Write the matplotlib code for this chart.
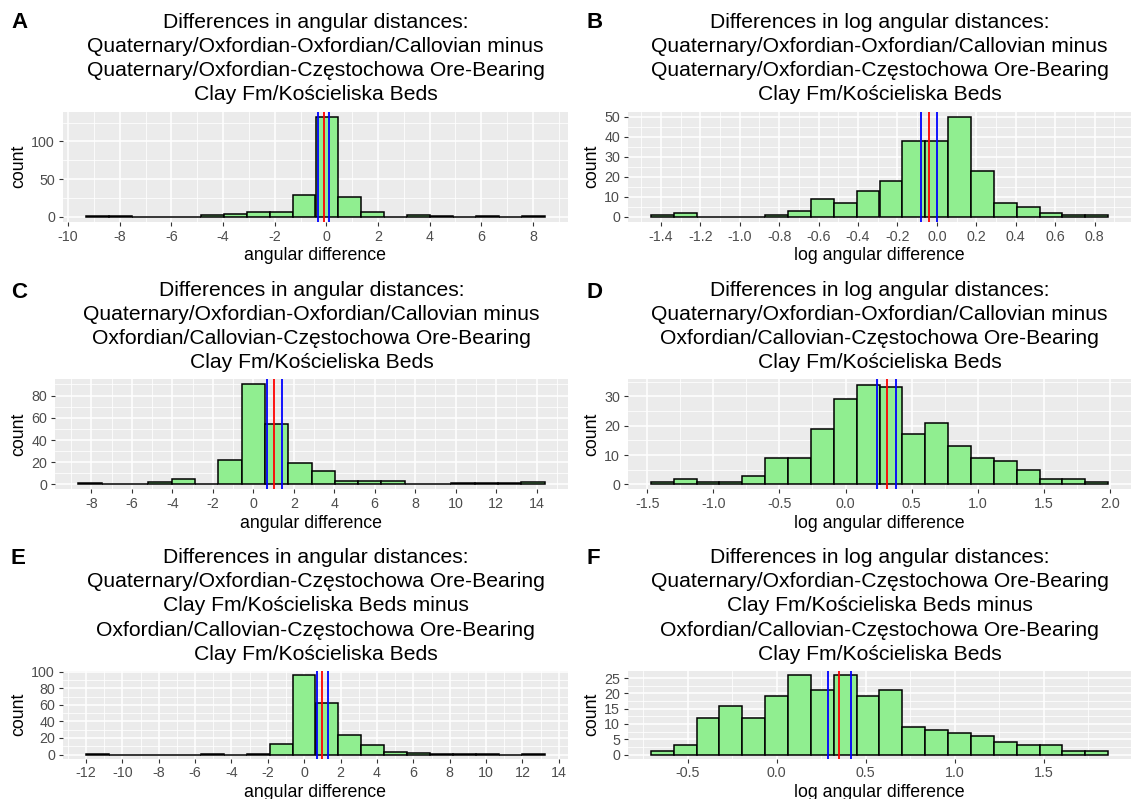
import matplotlib
matplotlib.use("Agg")
import matplotlib.pyplot as plt
from matplotlib.ticker import AutoMinorLocator

plt.rcParams['font.family'] = ['Liberation Sans', 'DejaVu Sans']
plt.rcParams['axes.unicode_minus'] = False

# ---- data (20 bins per histogram) ----
# A: angular differences, Quaternary/Oxfordian pairs
a_start, a_width = -9.31, 0.889
a_counts = [1, 1, 0, 0, 0, 2, 4, 6, 7, 29, 133, 26, 6, 0, 2, 1, 0, 1, 0, 1]
a_vlines = [-0.33, -0.11, 0.10]
a_xticks = [-10, -8, -6, -4, -2, 0, 2, 4, 6, 8]
a_yticks = [0, 50, 100]

# B: log angular differences, same pair
b_start, b_width = -1.451, 0.116
b_counts = [1, 2, 0, 0, 0, 1, 3, 9, 7, 13, 18, 38, 38, 50, 23, 7, 5, 2, 1, 1]
b_vlines = [-0.081, -0.041, 0.001]
b_xticks = [-1.4, -1.2, -1.0, -0.8, -0.6, -0.4, -0.2, 0.0, 0.2, 0.4, 0.6, 0.8]
b_yticks = [0, 10, 20, 30, 40, 50]

# C: angular differences, Quaternary/Oxfordian vs Oxfordian/Callovian
c_start, c_width = -8.65, 1.1525
c_counts = [1, 0, 0, 2, 5, 0, 22, 90, 54, 19, 12, 3, 3, 3, 0, 0, 1, 1, 1, 2]
c_vlines = [0.68, 1.01, 1.40]
c_xticks = [-8, -6, -4, -2, 0, 2, 4, 6, 8, 10, 12, 14]
c_yticks = [0, 20, 40, 60, 80]

# D: log angular differences, same pair
d_start, d_width = -1.473, 0.173
d_counts = [1, 2, 1, 1, 3, 9, 9, 19, 29, 34, 33, 17, 21, 13, 9, 8, 5, 2, 2, 1]
d_vlines = [0.238, 0.314, 0.384]
d_xticks = [-1.5, -1.0, -0.5, 0.0, 0.5, 1.0, 1.5, 2.0]
d_yticks = [0, 10, 20, 30]

# E: angular differences, Częstochowa pairs
e_start, e_width = -12.0, 1.262
e_counts = [1, 0, 0, 0, 0, 1, 0, 1, 13, 96, 62, 24, 11, 3, 2, 1, 1, 1, 0, 1]
e_vlines = [0.69, 1.00, 1.29]
e_xticks = [-12, -10, -8, -6, -4, -2, 0, 2, 4, 6, 8, 10, 12, 14]
e_yticks = [0, 20, 40, 60, 80, 100]

# F: log angular differences, same pair
f_start, f_width = -0.707, 0.1284
f_counts = [1, 3, 12, 16, 12, 19, 26, 21, 26, 19, 21, 9, 8, 7, 6, 4, 3, 3, 1, 1]
f_vlines = [0.286, 0.351, 0.417]
f_xticks = [-0.5, 0.0, 0.5, 1.0, 1.5]
f_yticks = [0, 5, 10, 15, 20, 25]

pair_1 = "Quaternary/Oxfordian-Oxfordian/Callovian minus\nQuaternary/Oxfordian-Częstochowa Ore-Bearing\nClay Fm/Kościeliska Beds"
pair_2 = "Quaternary/Oxfordian-Oxfordian/Callovian minus\nOxfordian/Callovian-Częstochowa Ore-Bearing\nClay Fm/Kościeliska Beds"
pair_3 = ("Quaternary/Oxfordian-Częstochowa Ore-Bearing\nClay Fm/Kościeliska Beds minus\n"
          "Oxfordian/Callovian-Częstochowa Ore-Bearing\nClay Fm/Kościeliska Beds")
head_lin = "Differences in angular distances:\n"
head_log = "Differences in log angular distances:\n"

FILL = '#90EE90'
LINE_COLOURS = ['blue', 'red', 'blue']
W, H = 1132, 799


def add_panel(fig, box):
    """Axes from a pixel box (x0, y0, x1, y1), origin top-left"""
    x0, y0, x1, y1 = box
    return fig.add_axes([x0 / W, 1 - y1 / H, (x1 - x0) / W, (y1 - y0) / H])


def draw_hist(ax, start, width, counts, vlines, xticks, yticks, fmt, title, xlabel):
    """ggplot-like histogram with the three vertical reference lines"""
    edges = [start + i * width for i in range(len(counts))]
    ax.bar(edges, counts, width=width, align='edge', color=FILL,
           edgecolor='black', linewidth=1.1, zorder=3)
    for x, col in zip(vlines, LINE_COLOURS):
        ax.axvline(x, color=col, lw=1.3, zorder=4)

    span = width * len(counts)
    ax.set_xlim(start - 0.05 * span, start + 1.05 * span)
    top = max(counts)
    ax.set_ylim(-0.05 * top, 1.05 * top)

    ax.set_xticks(xticks)
    ax.set_xticklabels([fmt % t for t in xticks])
    ax.set_yticks(yticks)
    ax.xaxis.set_minor_locator(AutoMinorLocator(2))
    ax.yaxis.set_minor_locator(AutoMinorLocator(2))

    ax.set_facecolor('#EBEBEB')
    ax.set_axisbelow(True)
    ax.grid(which='major', color='white', lw=1.1)
    ax.grid(which='minor', color='white', lw=0.55)
    for s in ax.spines.values():
        s.set_visible(False)
    ax.tick_params(which='major', length=3.2, width=0.8, color='#333333',
                   labelcolor='#4D4D4D', labelsize=10.3, pad=2.5)
    ax.tick_params(which='minor', length=0)

    ax.set_xlabel(xlabel, fontsize=12.8, labelpad=2.5)
    ax.set_ylabel('count', fontsize=12.8, labelpad=3)
    ax.set_title(title, fontsize=15.2, pad=8, linespacing=1.35)


fig = plt.figure(figsize=(W / 100, H / 100), dpi=100)

ax_a = add_panel(fig, (63, 111.5, 568, 222))
ax_b = add_panel(fig, (628, 111.5, 1131, 222))
ax_c = add_panel(fig, (55, 379.5, 568, 489.5))
ax_d = add_panel(fig, (628, 379.5, 1131, 489.5))
ax_e = add_panel(fig, (63, 671, 568, 758.5))
ax_f = add_panel(fig, (628, 671, 1131, 758.5))

draw_hist(ax_a, a_start, a_width, a_counts, a_vlines, a_xticks, a_yticks, '%d',
          head_lin + pair_1, 'angular difference')
draw_hist(ax_b, b_start, b_width, b_counts, b_vlines, b_xticks, b_yticks, '%.1f',
          head_log + pair_1, 'log angular difference')
draw_hist(ax_c, c_start, c_width, c_counts, c_vlines, c_xticks, c_yticks, '%d',
          head_lin + pair_2, 'angular difference')
draw_hist(ax_d, d_start, d_width, d_counts, d_vlines, d_xticks, d_yticks, '%.1f',
          head_log + pair_2, 'log angular difference')
draw_hist(ax_e, e_start, e_width, e_counts, e_vlines, e_xticks, e_yticks, '%d',
          head_lin + pair_3, 'angular difference')
draw_hist(ax_f, f_start, f_width, f_counts, f_vlines, f_xticks, f_yticks, '%.1f',
          head_log + pair_3, 'log angular difference')

# panel tags, level with the first title line
for tag, x, y in [('A', 11, 23), ('B', 587, 23), ('C', 11, 292),
                  ('D', 587, 292), ('E', 11, 558), ('F', 587, 558)]:
    fig.text(x / W, 1 - y / H, tag, fontsize=16, fontweight='bold', ha='left', va='center')

fig.savefig('out.png', dpi=100)
